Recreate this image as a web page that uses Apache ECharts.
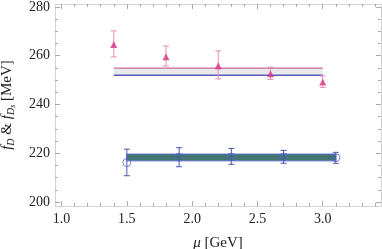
<!DOCTYPE html>
<html><head><meta charset="utf-8">
<script src="https://cdn.jsdelivr.net/npm/echarts@6/dist/echarts.min.js"></script>
<style>html,body{margin:0;padding:0;background:#fff}#c{width:382px;height:249px}</style>
</head><body><div id="c"></div>
<script>
// D_s data (pink triangles)
const dsMu = [1.4, 1.8, 2.2, 2.6, 3.0];
const dsVal = [264.6, 259.6, 255.9, 252.6, 249.2];
const dsLo = [259.5, 255.8, 250.5, 250.3, 247.0];
const dsHi = [270.2, 264.0, 262.0, 255.3, 251.7];
// D data (blue circles)
const dMu = [1.5, 1.9, 2.3, 2.7, 3.1];
const dVal = [216.2, 218.4, 218.5, 218.5, 218.2];
const dLo = [210.8, 214.5, 215.5, 215.9, 215.9];
const dHi = [221.7, 222.3, 222.0, 221.2, 220.4];
// bands: [muStart, muEnd, low, high]
const bandDs = [1.4, 3.0, 252.0, 254.9];
const bandD = [1.5, 3.1, 216.9, 219.7];
// ticks
const xMajor = [1.0, 1.5, 2.0, 2.5, 3.0];
const xMinor = [1.1,1.2,1.3,1.4,1.6,1.7,1.8,1.9,2.1,2.2,2.3,2.4,2.6,2.7,2.8,2.9,3.1,3.2,3.3,3.4];
const yMajor = [200, 220, 240, 260, 280];
const yMinor = [205,210,215,225,230,235,245,250,255,265,270,275];

const X_MIN = 0.95, X_MAX = 3.446, Y_MIN = 198.4, Y_MAX = 281.2;
const tickCol = '#aaaaaa', frameCol = '#d4d4d4';
const font = 'Liberation Serif';

function xAx(pos, vals, len, labels, line) {
  return {type:'value', position:pos, min:X_MIN, max:X_MAX, splitLine:{show:false},
    axisLine:{show:line, lineStyle:{color:frameCol, width:1}},
    axisTick:{show:true, inside:true, length:len, customValues:vals, lineStyle:{color:tickCol}},
    axisLabel:labels ? {show:true, customValues:xMajor, formatter:v=>v.toFixed(1), color:'#222', fontFamily:font, fontSize:14, margin:6} : {show:false}
  };
}
function yAx(pos, vals, len, labels, line) {
  return {type:'value', position:pos, min:Y_MIN, max:Y_MAX, splitLine:{show:false},
    axisLine:{show:line, lineStyle:{color:frameCol, width:1}},
    axisTick:{show:true, inside:true, length:len, customValues:vals, lineStyle:{color:tickCol}},
    axisLabel:labels ? {show:true, customValues:yMajor, formatter:v=>String(v), color:'#222', fontFamily:font, fontSize:14, margin:5} : {show:false}
  };
}
const xAxes = [xAx('bottom', xMajor, 5, true, true), xAx('bottom', xMinor, 3, false, false), xAx('top', xMajor, 5, false, true), xAx('top', xMinor, 3, false, false)];
const yAxes = [yAx('left', yMajor, 5, true, true), yAx('left', yMinor, 3, false, false), yAx('right', yMajor, 5, false, true), yAx('right', yMinor, 3, false, false)];
xAxes[0].name = '{i|μ} [GeV]';
xAxes[0].nameLocation = 'middle';
xAxes[0].nameGap = 30;
xAxes[0].nameTextStyle = {fontFamily:font, fontSize:15, color:'#222', rich:{i:{fontFamily:font, fontStyle:'italic', fontSize:15, color:'#222'}}};
yAxes[0].name = '{i|f}{sub|D} & {i|f}{sub|D}{ss|s} [MeV]';
yAxes[0].nameLocation = 'middle';
yAxes[0].nameGap = 38;
yAxes[0].nameTextStyle = {fontFamily:font, fontSize:15, color:'#222', rich:{
  i:{fontFamily:font, fontStyle:'italic', fontSize:15, color:'#222'},
  sub:{fontFamily:font, fontStyle:'italic', fontSize:10, color:'#222', padding:[7,0,0,0]},
  ss:{fontFamily:font, fontStyle:'italic', fontSize:8, color:'#222', padding:[11,0,0,0]}
}};

function errRender(color) {
  return function(params, api) {
    const x = api.value(0), lo = api.value(1), hi = api.value(2);
    const a = api.coord([x, lo]), b = api.coord([x, hi]);
    const w = 3;
    const st = {stroke:color, lineWidth:1};
    return {type:'group', children:[
      {type:'line', shape:{x1:a[0], y1:a[1], x2:b[0], y2:b[1]}, style:st},
      {type:'line', shape:{x1:a[0]-w, y1:a[1], x2:a[0]+w, y2:a[1]}, style:st},
      {type:'line', shape:{x1:b[0]-w, y1:b[1], x2:b[0]+w, y2:b[1]}, style:st}
    ]};
  };
}
function bandRender(fill, topCol, botCol, stroke) {
  return function(params, api) {
    const p0 = api.coord([api.value(0), api.value(3)]);
    const p1 = api.coord([api.value(1), api.value(2)]);
    const ch = [{type:'rect', shape:{x:p0[0], y:p0[1], width:p1[0]-p0[0], height:p1[1]-p0[1]}, style:{fill:fill, stroke:stroke || null, lineWidth:1}}];
    if (topCol) ch.push({type:'line', shape:{x1:p0[0], y1:p0[1], x2:p1[0], y2:p0[1]}, style:{stroke:topCol, lineWidth:1.3}});
    if (botCol) ch.push({type:'line', shape:{x1:p0[0], y1:p1[1], x2:p1[0], y2:p1[1]}, style:{stroke:botCol, lineWidth:1.3}});
    return {type:'group', children:ch};
  };
}

const chart = echarts.init(document.getElementById('c'), null, {renderer:'canvas'});
chart.setOption({
  animation:false,
  grid:{left:55, top:4, width:326, height:202, containLabel:false, outerBoundsMode:'none'},
  xAxis:xAxes, yAxis:yAxes,
  series:[
    {type:'custom', renderItem:bandRender('#e9e9e9', '#c86a9a', '#5a5cc0'), data:[bandDs], z:2},
    {type:'custom', renderItem:bandRender('#417570', null, null, '#6070c8'), data:[bandD], z:2},
    {type:'custom', renderItem:errRender('rgba(228,130,178,0.9)'), data:dsMu.map((m,i)=>[m, dsLo[i], dsHi[i]]), z:3},
    {type:'custom', renderItem:errRender('#4a58b4'), data:dMu.map((m,i)=>[m, dLo[i], dHi[i]]), z:3},
    {type:'scatter', symbol:'triangle', symbolSize:7, itemStyle:{color:'#d63384'}, data:dsMu.map((m,i)=>[m, dsVal[i]]), z:4},
    {type:'scatter', symbol:'circle', symbolSize:8, itemStyle:{color:'rgba(0,0,0,0)', borderColor:'#5566c4', borderWidth:1}, data:dMu.map((m,i)=>[m, dVal[i]]), z:4}
  ]
});
</script></body></html>
